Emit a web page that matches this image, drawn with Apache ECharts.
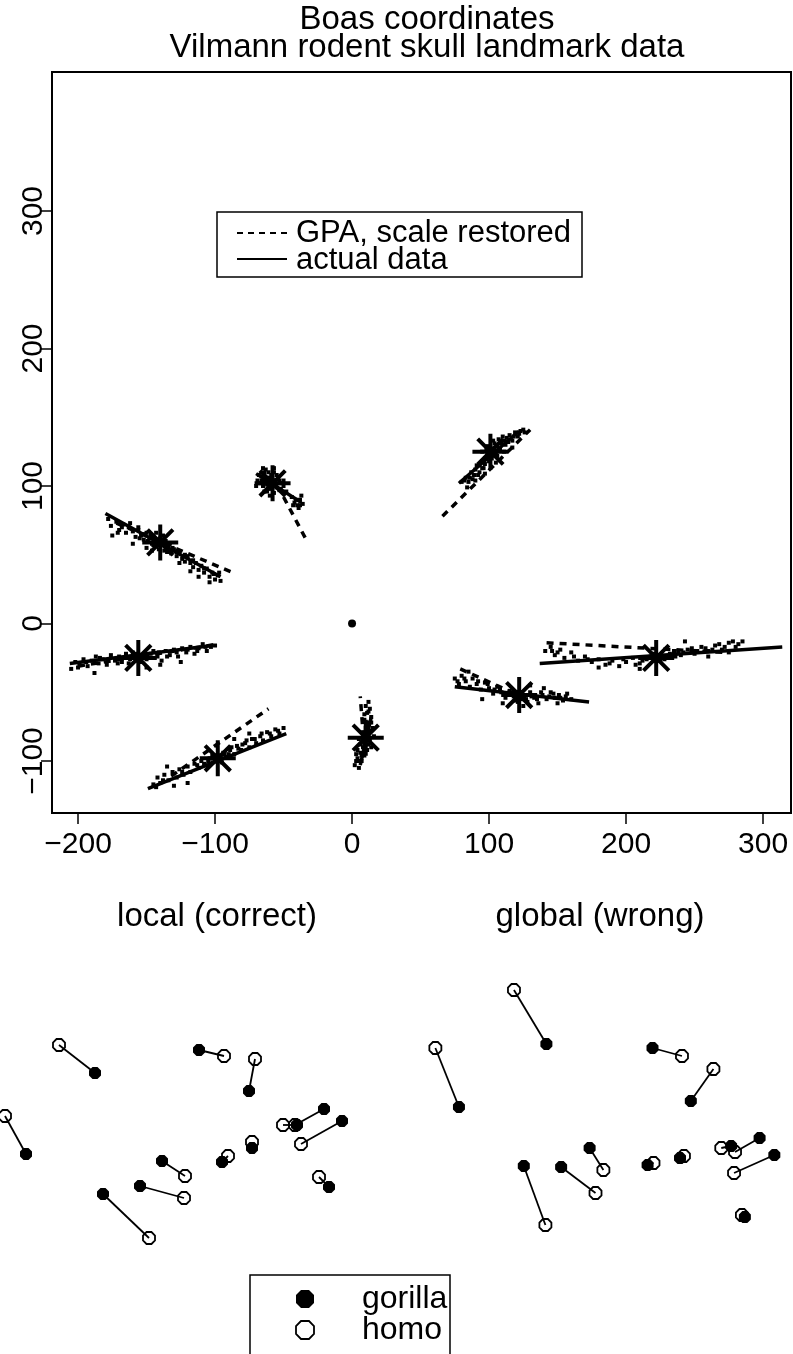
<!DOCTYPE html>
<html><head><meta charset="utf-8">
<script src="https://cdn.jsdelivr.net/npm/echarts@6/dist/echarts.min.js"></script>
<style>html,body{margin:0;padding:0;background:#fff}#c{width:793px;height:1354px}</style>
</head><body><div id="c"></div>
<script>
const FONT = "'Liberation Sans', Arial, Helvetica, sans-serif";

// ---------- top panel: Boas coordinates ----------
const xTicks = [-200, -100, 0, 100, 200, 300];
const yTicks = [-100, 0, 100, 200, 300];

const landmarkMeans = [[-140, 59], [-58, 102], [101, 125], [-156, -25], [-98, -98], [10, -83], [122, -52], [222, -25]];
const centroid = [[0, 0]];

const gpaLines = [
  [[-172, 73], [-87, 37]],
  [[-50, 92], [-34, 62]],
  [[66, 78], [130, 141]],
  [[-200, -31], [-98, -15]],
  [[-132, -111], [-61, -62]],
  [[9, -92], [6, -53]],
  [[79, -33], [130, -56]],
  [[142, -14], [272, -21]]
];
const actualLines = [
  [[-180, 80], [-96, 34]],
  [[-70, 109], [-37, 88]],
  [[78, 102], [122, 140]],
  [[-206, -29], [-102, -16]],
  [[-149, -120], [-48, -80]],
  [[6, -103], [14, -68]],
  [[75, -46], [173, -57]],
  [[137, -29], [314, -17]]
];

const cloud1 = [[-178,76],[-176,71],[-172,74],[-170,68],[-167,72],[-165,66],[-163,70],[-160,67],[-158,63],[-156,68],[-154,64],[-152,61],[-150,66],[-148,62],[-146,58],[-145,63],[-143,56],[-141,61],[-139,57],[-137,53],[-136,60],[-134,55],[-132,51],[-130,54],[-128,49],[-126,52],[-124,47],[-122,45],[-120,49],[-118,44],[-116,41],[-114,44],[-112,39],[-110,42],[-108,37],[-106,40],[-104,34],[-102,37],[-100,32],[-98,35],[-96,31],[-175,64],[-171,66],[-160,58],[-150,55],[-126,44],[-118,38],[-112,34],[-104,30],
  [-147,64],[-144,60],[-142,58],[-140,62],[-138,59],[-136,56],[-141,54],[-145,57],[-149,60],[-152,65],[-155,62],[-133,58],[-131,55],[-128,52],[-138,64],[-143,66],[-135,52],[-146,53],[-162,73],[-168,70],[-156,70],[-122,50],[-116,46],[-108,40],[-101,36],[-97,37]];
const cloud2 = [[-68,108],[-66,104],[-65,100],[-64,110],[-62,106],[-61,98],[-60,103],[-59,108],[-58,100],[-57,95],[-56,104],[-55,99],[-54,106],[-53,97],[-52,102],[-62,96],[-67,102],[-63,112],[-50,100],[-57,110],[-60,93],[-70,100],[-48,96],[-42,88],[-40,86],[-38,90],[-36,87],[-39,84],[-44,92],[-37,93],
  [-64,104],[-62,101],[-60,106],[-58,104],[-56,101],[-59,98],[-61,110],[-55,108],[-53,104],[-66,107],[-64,96],[-57,113],[-52,98],[-69,104],[-65,113],[-50,104],[-41,90],[-38,86],[-43,86]];
const cloud3 = [[80,103],[83,106],[85,103],[87,110],[88,105],[90,112],[92,108],[93,115],[95,118],[96,113],[98,120],[99,124],[100,118],[101,128],[102,122],[103,126],[104,131],[105,124],[106,129],[107,134],[108,127],[109,132],[110,136],[112,130],[113,135],[115,137],[117,133],[119,139],[121,136],[123,140],[126,139],[95,125],[97,109],[105,117],[111,125],[90,104],[84,99],[117,128],
  [98,126],[100,122],[102,120],[104,127],[97,116],[95,113],[93,110],[103,133],[106,122],[108,131],[111,133],[114,132],[118,136],[122,138],[125,141],[89,108],[86,106],[82,104],[91,115],[99,129]];
const cloud4 = [[-205,-33],[-202,-28],[-199,-30],[-196,-26],[-193,-31],[-190,-27],[-187,-24],[-185,-29],[-182,-26],[-179,-30],[-176,-23],[-173,-27],[-170,-24],[-168,-28],[-165,-22],[-162,-26],[-160,-21],[-157,-25],[-154,-28],[-151,-22],[-148,-25],[-145,-20],[-142,-24],[-139,-27],[-136,-20],[-133,-23],[-130,-19],[-127,-24],[-124,-18],[-121,-21],[-118,-17],[-115,-22],[-112,-18],[-109,-15],[-106,-20],[-103,-17],[-188,-36],[-150,-32],[-140,-30],[-125,-28],
  [-160,-25],[-158,-22],[-155,-27],[-153,-24],[-150,-26],[-147,-22],[-163,-29],[-166,-25],[-171,-29],[-178,-27],[-184,-25],[-194,-28],[-200,-32],[-144,-25],[-141,-21],[-135,-24],[-128,-21],[-120,-19],[-113,-20],[-107,-17],[-100,-16]];
const cloud5 = [[-145,-117],[-142,-112],[-140,-116],[-137,-110],[-134,-114],[-131,-108],[-128,-112],[-126,-106],[-123,-110],[-120,-104],[-118,-108],[-115,-102],[-112,-105],[-110,-100],[-107,-103],[-104,-98],[-102,-101],[-99,-96],[-97,-100],[-94,-94],[-92,-97],[-89,-92],[-86,-95],[-84,-89],[-81,-92],[-78,-87],[-75,-90],[-73,-84],[-70,-87],[-67,-82],[-65,-85],[-62,-79],[-59,-82],[-56,-77],[-53,-80],[-50,-76],[-135,-104],[-130,-118],[-120,-116],[-86,-84],[-75,-80],
  [-100,-99],[-97,-96],[-95,-101],[-93,-95],[-90,-95],[-102,-96],[-105,-100],[-108,-102],[-88,-90],[-83,-91],[-80,-88],[-77,-85],[-71,-84],[-66,-80],[-60,-80],[-54,-78],[-113,-103],[-124,-108],[-138,-114],[-143,-119]];
const cloud6 = [[2,-103],[4,-98],[5,-105],[6,-94],[7,-100],[8,-90],[9,-96],[10,-86],[11,-92],[12,-80],[13,-84],[10,-76],[12,-72],[14,-68],[11,-65],[13,-62],[9,-70],[8,-80],[6,-88],[3,-95],[15,-76],[16,-82],[14,-90],[5,-84],[10,-60],[12,-57],
  [9,-82],[11,-84],[8,-86],[12,-88],[10,-92],[7,-96],[13,-78],[11,-74],[14,-72],[5,-100],[4,-92],[12,-64],[9,-66],[3,-100]];
const cloud7 = [[75,-40],[78,-44],[80,-38],[83,-42],[86,-46],[88,-40],[91,-44],[94,-48],[97,-43],[100,-47],[103,-51],[106,-46],[109,-50],[112,-54],[115,-49],[118,-53],[121,-57],[124,-51],[127,-55],[130,-50],[133,-54],[136,-58],[139,-52],[142,-55],[145,-50],[148,-54],[151,-52],[154,-56],[157,-51],[160,-55],[95,-55],[110,-58],[125,-60],[130,-45],[140,-47],[150,-58],[85,-35],
  [118,-50],[120,-54],[122,-51],[124,-55],[126,-52],[119,-56],[116,-52],[128,-57],[131,-53],[135,-55],[138,-50],[144,-53],[147,-51],[152,-54],[156,-53],[108,-48],[104,-48],[99,-44],[92,-42],[82,-40],[77,-42],[113,-52]];
const cloud8 = [[141,-20],[145,-17],[148,-23],[152,-19],[155,-25],[160,-21],[165,-27],[170,-24],[175,-28],[180,-26],[185,-30],[190,-27],[195,-31],[200,-28],[205,-25],[210,-29],[215,-26],[220,-22],[225,-27],[230,-24],[235,-20],[240,-23],[245,-19],[250,-22],[255,-17],[260,-20],[265,-16],[270,-19],[275,-14],[280,-17],[285,-13],[243,-13],[180,-32],[210,-33],[260,-24],[275,-21],
  [218,-24],[222,-27],[225,-23],[228,-26],[232,-22],[236,-24],[238,-20],[242,-21],[248,-18],[252,-20],[258,-18],[263,-19],[268,-15],[272,-17],[278,-13],[282,-15],[212,-27],[207,-30],[198,-26],[188,-29],[172,-26],[162,-24],[150,-21],[146,-20]];

// ---------- bottom panels: gorilla vs homo ----------
const localGorilla = [[-105,67],[-174,-14],[-1,90],[49,49],[97,15],[124,31],[142,19],[52,-8],[22,-22],[-38,-21],[-60,-46],[-97,-54],[129,-47]];
const localHomo    = [[-141,95],[-195,24],[24,84],[55,81],[83,15],[95,15],[101,-4],[52,-2],[28,-16],[-15,-36],[-16,-58],[-51,-98],[119,-37]];
const globalGorilla = [[-51,96],[-140,33],[57,92],[96,39],[137,-6],[166,2],[181,-15],[52,-25],[85,-18],[-7,-8],[-36,-27],[-74,-26],[151,-77]];
const globalHomo    = [[-84,150],[-164,92],[87,84],[119,71],[127,-8],[141,-12],[140,-33],[58,-23],[89,-16],[7,-30],[-1,-53],[-52,-85],[148,-75]];

const panelTitles = ['local (correct)', 'global (wrong)'];
const topLegend = ['GPA, scale restored', 'actual data'];
const bottomLegend = ['gorilla', 'homo'];

const ASTERISK = 'path://M0,-1L0,1M-1,0L1,0M-0.7071,-0.7071L0.7071,0.7071M-0.7071,0.7071L0.7071,-0.7071';
const OCTAGON = 'path://M-0.414,-1L0.414,-1L1,-0.414L1,0.414L0.414,1L-0.414,1L-1,0.414L-1,-0.414Z';

function segSeries(segs, dashed) {
  return segs.map(s => ({
    type: 'line', xAxisIndex: 0, yAxisIndex: 0, data: s, showSymbol: false, silent: true,
    lineStyle: { color: '#000', width: 3.5, type: dashed ? [7, 6] : 'solid', opacity: 1 }, z: 3
  }));
}
function pairSeries(a, b, xi) {
  return {
    type: 'lines', coordinateSystem: 'cartesian2d', xAxisIndex: xi, yAxisIndex: xi, silent: true,
    lineStyle: { color: '#000', width: 1.8, opacity: 1 },
    data: a.map((p, i) => ({ coords: [p, b[i]] })), z: 2
  };
}

const series = [
  { type: 'scatter', xAxisIndex: 0, yAxisIndex: 0, symbol: 'rect', symbolSize: 4,
    itemStyle: { color: '#000', opacity: 1 }, data: [].concat(cloud1, cloud2, cloud3, cloud4, cloud5, cloud6, cloud7, cloud8), z: 2 },
  ...segSeries(gpaLines, true),
  ...segSeries(actualLines, false),
  { type: 'scatter', xAxisIndex: 0, yAxisIndex: 0, symbol: ASTERISK, symbolSize: 36,
    itemStyle: { color: 'rgba(0,0,0,0)', borderColor: '#000', borderWidth: 4, opacity: 1 }, data: landmarkMeans, z: 4 },
  { type: 'scatter', xAxisIndex: 0, yAxisIndex: 0, symbol: 'circle', symbolSize: 8,
    itemStyle: { color: '#000', opacity: 1 }, data: centroid, z: 4 },
  pairSeries(localGorilla, localHomo, 1),
  pairSeries(globalGorilla, globalHomo, 2),
  { type: 'scatter', xAxisIndex: 1, yAxisIndex: 1, symbol: OCTAGON, symbolSize: 12,
    itemStyle: { color: '#000', opacity: 1 }, data: localGorilla, z: 3 },
  { type: 'scatter', xAxisIndex: 1, yAxisIndex: 1, symbol: OCTAGON, symbolSize: 12,
    itemStyle: { color: 'rgba(0,0,0,0)', borderColor: '#000', borderWidth: 1.8, opacity: 1 }, data: localHomo, z: 4 },
  { type: 'scatter', xAxisIndex: 2, yAxisIndex: 2, symbol: OCTAGON, symbolSize: 12,
    itemStyle: { color: '#000', opacity: 1 }, data: globalGorilla, z: 3 },
  { type: 'scatter', xAxisIndex: 2, yAxisIndex: 2, symbol: OCTAGON, symbolSize: 12,
    itemStyle: { color: 'rgba(0,0,0,0)', borderColor: '#000', borderWidth: 1.8, opacity: 1 }, data: globalHomo, z: 4 }
];

const hiddenAxis = (min, max, gi) => ({ type: 'value', gridIndex: gi, min, max, show: false, splitLine: { show: false } });

const option = {
  backgroundColor: '#fff',
  animation: false,
  textStyle: { fontFamily: FONT },
  title: [
    { text: 'Boas coordinates\nVilmann rodent skull landmark data', left: 422, top: 1, textAlign: 'center',
      textStyle: { fontFamily: FONT, fontSize: 33, fontWeight: 'normal', color: '#000', lineHeight: 28 } },
    { text: panelTitles[0], left: 212, top: 895, textAlign: 'center',
      textStyle: { fontFamily: FONT, fontSize: 33, fontWeight: 'normal', color: '#000' } },
    { text: panelTitles[1], left: 595, top: 895, textAlign: 'center',
      textStyle: { fontFamily: FONT, fontSize: 33, fontWeight: 'normal', color: '#000' } }
  ],
  grid: [
    { left: 52, top: 72, width: 739, height: 741, show: true, borderColor: '#000', borderWidth: 2, backgroundColor: 'transparent' },
    { left: 0, top: 960, width: 400, height: 300 },
    { left: 400, top: 960, width: 400, height: 300 }
  ],
  xAxis: [
    { type: 'value', gridIndex: 0, min: -219, max: 320.4,
      axisLine: { show: false, onZero: false }, splitLine: { show: false },
      axisTick: { show: true, inside: false, length: 11, lineStyle: { color: '#000', width: 1.5 }, customValues: xTicks },
      axisLabel: { color: '#000', fontSize: 30, fontFamily: FONT, margin: 17, customValues: xTicks,
        formatter: v => String(v).replace('-', '\u2212') } },
    hiddenAxis(-200, 200, 1),
    hiddenAxis(-200, 200, 2)
  ],
  yAxis: [
    { type: 'value', gridIndex: 0, min: -137.8, max: 401.1,
      axisLine: { show: false, onZero: false }, splitLine: { show: false },
      axisTick: { show: true, inside: false, length: 11, lineStyle: { color: '#000', width: 1.5 }, customValues: yTicks },
      axisLabel: { color: '#000', fontSize: 30, fontFamily: FONT, margin: 3, rotate: 90, customValues: yTicks,
        formatter: v => String(v).replace('-', '\u2212') } },
    hiddenAxis(-120, 180, 1),
    hiddenAxis(-120, 180, 2)
  ],
  graphic: [
    { type: 'rect', shape: { x: 217, y: 212, width: 365, height: 65 }, style: { fill: '#fff', stroke: '#000', lineWidth: 1.5 }, z: 10 },
    { type: 'line', shape: { x1: 237, y1: 233, x2: 287, y2: 233 }, style: { stroke: '#000', lineWidth: 2, lineDash: [6, 5] }, z: 11 },
    { type: 'line', shape: { x1: 237, y1: 259, x2: 287, y2: 259 }, style: { stroke: '#000', lineWidth: 2 }, z: 11 },
    { type: 'text', x: 296, y: 233, style: { text: topLegend[0], fontFamily: FONT, fontSize: 31, fill: '#000', verticalAlign: 'middle' }, z: 11 },
    { type: 'text', x: 296, y: 260, style: { text: topLegend[1], fontFamily: FONT, fontSize: 31, fill: '#000', verticalAlign: 'middle' }, z: 11 },
    { type: 'rect', shape: { x: 250, y: 1275, width: 200, height: 90 }, style: { fill: '#fff', stroke: '#000', lineWidth: 1.5 }, z: 10 },
    { type: 'polygon', shape: { points: [[301,1290],[309,1290],[314,1295],[314,1303],[309,1308],[301,1308],[296,1303],[296,1295]] }, style: { fill: '#000' }, z: 11 },
    { type: 'polygon', shape: { points: [[301,1321],[309,1321],[314,1326],[314,1334],[309,1339],[301,1339],[296,1334],[296,1326]] }, style: { fill: 'none', stroke: '#000', lineWidth: 1.8 }, z: 11 },
    { type: 'text', x: 362, y: 1299, style: { text: bottomLegend[0], fontFamily: FONT, fontSize: 32, fill: '#000', verticalAlign: 'middle' }, z: 11 },
    { type: 'text', x: 362, y: 1330, style: { text: bottomLegend[1], fontFamily: FONT, fontSize: 32, fill: '#000', verticalAlign: 'middle' }, z: 11 }
  ],
  series
};

const chart = echarts.init(document.getElementById('c'), null, { renderer: 'canvas' });
chart.setOption(option);
</script>
</body></html>
